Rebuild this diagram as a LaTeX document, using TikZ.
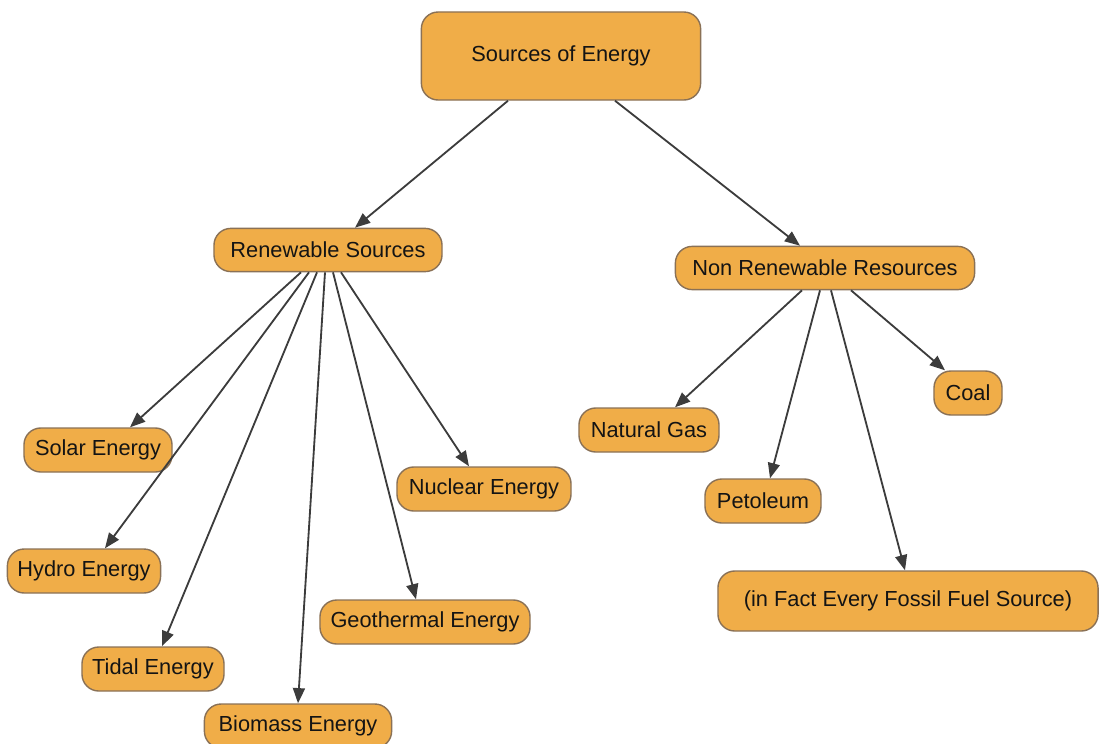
\documentclass[tikz,border=0pt]{standalone}
\usepackage{fontspec}
\setmainfont{Liberation Sans}
\usepackage{xcolor}
\usetikzlibrary{arrows.meta,calc}
\definecolor{boxfill}{HTML}{F0AD48}
\definecolor{boxline}{HTML}{8A7156}
\definecolor{linkgray}{HTML}{3C3C3C}
\definecolor{txtdark}{HTML}{141414}

\begin{document}
\begin{tikzpicture}[
  x=0.025cm,y=-0.025cm,
  box/.style={draw=boxline,fill=boxfill,line width=1pt,rounded corners=0.42cm,
              minimum height=1.1cm,inner sep=0pt,align=center,
              font=\fontsize{15.5}{18}\selectfont,text=txtdark},
  arr/.style={-{Triangle[length=3.8mm,width=3mm]},line width=1.3pt,linkgray}
]
\useasboundingbox (0,0) rectangle (1100,744);

% ---- ROOT ----
\node[box,minimum width=6.98cm,minimum height=2.2cm] (src) at (561,56) {Sources of Energy};

% ---- SECOND LEVEL ----
\node[box,minimum width=5.7cm,minimum height=1.08cm]  (ren)    at (328,250) {Renewable Sources};
\node[box,minimum width=7.48cm,minimum height=1.08cm] (nonren) at (825,268) {Non Renewable Resources};

% ---- RENEWABLE ----
\node[box,minimum width=3.7cm]  (solar)   at (98,450)  {Solar Energy};
\node[box,minimum width=3.83cm] (hydro)   at (84,571)  {Hydro Energy};
\node[box,minimum width=3.55cm] (tidal)   at (153,669) {Tidal Energy};
\node[box,minimum width=4.68cm] (biomass) at (298,726) {Biomass Energy};
\node[box,minimum width=5.25cm] (geo)     at (425,622) {Geothermal Energy};
\node[box,minimum width=4.35cm] (nuclear) at (484,489) {Nuclear Energy};

% ---- NON RENEWABLE ----
\node[box,minimum width=3.5cm]  (gas)    at (649,430) {Natural Gas};
\node[box,minimum width=2.9cm]  (petrol) at (763,501) {Petoleum};
\node[box,minimum width=1.7cm]  (coal)   at (968,393) {Coal};
\node[box,minimum width=9.5cm,minimum height=1.5cm] (fossil) at (908,601) {(in Fact Every Fossil Fuel Source)};

% ---- CONNECTIONS ----
\draw[arr] ($(src.south)+(-53,0)$) -- ($(ren.north)+(27,0)$);
\draw[arr] ($(src.south)+(54,0)$)  -- ($(nonren.north)+(-25,0)$);

\draw[arr] ($(ren.south)+(-27,0)$) -- ($(solar.north)+(32,0)$);
\draw[arr] ($(ren.south)+(-19,0)$) -- ($(hydro.north)+(21,0)$);
\draw[arr] ($(ren.south)+(-11,0)$) -- ($(tidal.north)+(9,0)$);
\draw[arr] ($(ren.south)+(-3,0)$)  -- ($(biomass.north)+(0,0)$);
\draw[arr] ($(ren.south)+(5,0)$)   -- ($(geo.north)+(-9,0)$);
\draw[arr] ($(ren.south)+(13,0)$)  -- ($(nuclear.north)+(-15,0)$);

\draw[arr] ($(nonren.south)+(-23,0)$) -- ($(gas.north)+(26,0)$);
\draw[arr] ($(nonren.south)+(-5,0)$)  -- ($(petrol.north)+(7,0)$);
\draw[arr] ($(nonren.south)+(6,0)$)   -- ($(fossil.north)+(-3,0)$);
\draw[arr] ($(nonren.south)+(26,0)$)  -- ($(coal.north)+(-23,0)$);

\end{tikzpicture}
\end{document}
